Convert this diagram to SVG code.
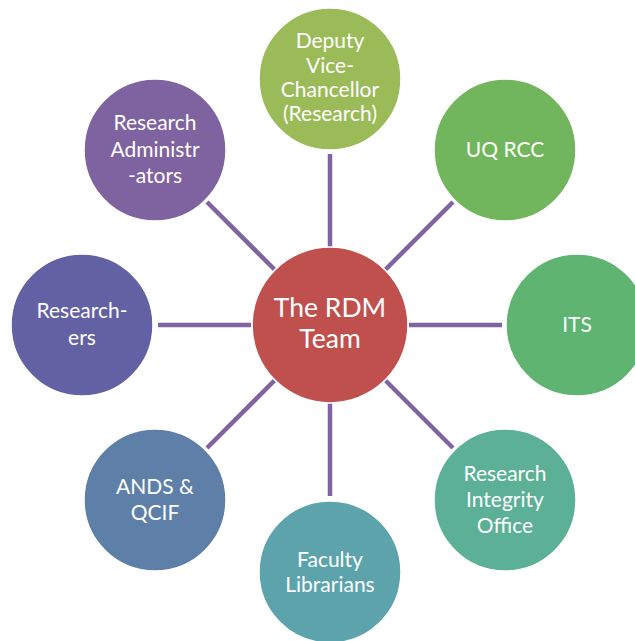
<svg xmlns="http://www.w3.org/2000/svg" width="635" height="641" viewBox="0 0 635 641">
<style>
.c{stroke:#fff;stroke-width:1.5}
.t{font-family:Lato,"Open Sans","Liberation Sans",sans-serif;font-size:21px;fill:#fff;text-anchor:middle}
.big{font-size:26.5px}
.ln{stroke:#8064A2;stroke-width:4.5;fill:none}
</style>
<rect width="635" height="641" fill="#fff"/>
<g id="connectors">
<line class="ln" x1="330" y1="154" x2="330" y2="247"/>
<line class="ln" x1="453" y1="202" x2="385" y2="270"/>
<line class="ln" x1="502" y1="325" x2="409" y2="325"/>
<line class="ln" x1="453" y1="448" x2="385" y2="380"/>
<line class="ln" x1="330" y1="496" x2="330" y2="403"/>
<line class="ln" x1="207" y1="448" x2="275" y2="380"/>
<line class="ln" x1="158" y1="325" x2="251" y2="325"/>
<line class="ln" x1="207" y1="202" x2="275" y2="270"/>
</g>
<g id="center">
<circle class="c" cx="330" cy="325" r="78" fill="#C0504D"/>
<text class="t big" x="330" y="317">The RDM</text>
<text class="t big" x="330" y="348">Team</text>
</g>
<g id="deputy">
<circle class="c" cx="330" cy="79" r="71" fill="#9BBB59"/>
<text class="t" x="330" y="48">Deputy</text>
<text class="t" x="330" y="73">Vice-</text>
<text class="t" x="330" y="97">Chancellor</text>
<text class="t" x="330" y="121">(Research)</text>
</g>
<g id="uqrcc">
<circle class="c" cx="505" cy="150" r="71" fill="#71B65C"/>
<text class="t" x="505" y="157">UQ RCC</text>
</g>
<g id="its">
<circle class="c" cx="577" cy="325" r="71" fill="#5EB470"/>
<text class="t" x="577" y="332">ITS</text>
</g>
<g id="rio">
<circle class="c" cx="505" cy="500" r="71" fill="#5BB095"/>
<text class="t" x="505" y="481">Research</text>
<text class="t" x="505" y="507">Integrity</text>
<text class="t" x="505" y="533">Office</text>
</g>
<g id="faculty">
<circle class="c" cx="330" cy="572" r="71" fill="#5CA3AC"/>
<text class="t" x="330" y="567">Faculty</text>
<text class="t" x="330" y="592">Librarians</text>
</g>
<g id="ands">
<circle class="c" cx="155" cy="500" r="71" fill="#5E7FA7"/>
<text class="t" x="155" y="494">ANDS &amp;</text>
<text class="t" x="155" y="520">QCIF</text>
</g>
<g id="researchers">
<circle class="c" cx="82" cy="325" r="71" fill="#6261A3"/>
<text class="t" x="82" y="318">Research-</text>
<text class="t" x="82" y="345">ers</text>
</g>
<g id="admin">
<circle class="c" cx="155" cy="150" r="71" fill="#7F62A0"/>
<text class="t" x="155" y="130">Research</text>
<text class="t" x="155" y="157">Administr</text>
<text class="t" x="155" y="183">-ators</text>
</g>
</svg>
